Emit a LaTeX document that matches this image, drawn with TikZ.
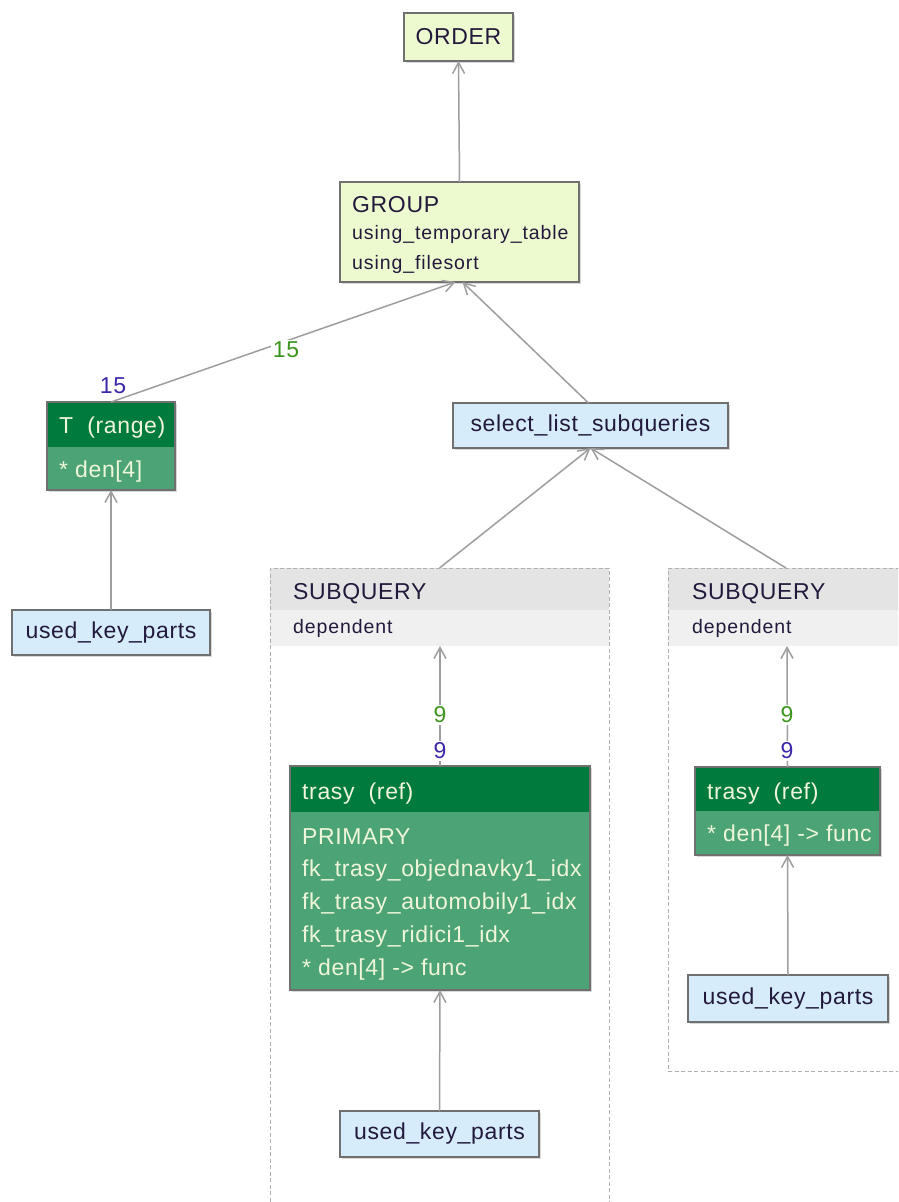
\documentclass[tikz,border=0pt]{standalone}
\usepackage{fontspec}
\setmainfont{Liberation Sans}[LetterSpace=2.8]
\usetikzlibrary{arrows.meta,shadows}

\definecolor{ygfill}{RGB}{237,250,208}
\definecolor{bluefill}{RGB}{214,236,251}
\definecolor{boxborder}{RGB}{112,112,112}
\definecolor{hdrgreen}{RGB}{0,122,61}
\definecolor{bodygreen}{RGB}{76,163,117}
\definecolor{greentext}{RGB}{240,246,218}
\definecolor{edgegray}{RGB}{158,158,158}
\definecolor{lblgreen}{RGB}{60,150,30}
\definecolor{lblpurple}{RGB}{60,40,170}
\definecolor{txt}{RGB}{35,25,60}
\definecolor{clhead}{RGB}{228,228,228}
\definecolor{clsub}{RGB}{240,240,240}
\definecolor{cldash}{RGB}{175,175,175}

\begin{document}
\begin{tikzpicture}[x=1pt,y=-1pt,
  bigfont/.style={font=\fontsize{23}{27}\selectfont},
  smallfont/.style={font=\fontsize{19.5}{23}\selectfont\addfontfeatures{LetterSpace=4.6}},
  shadowed/.style={drop shadow={shadow xshift=1.5pt,shadow yshift=-1.5pt,opacity=0.3}},
  box/.style={draw=boxborder, line width=1.1pt, inner sep=0pt, outer sep=0pt,
              anchor=north west, shadowed, text=txt, bigfont},
  opbox/.style={box, fill=ygfill},
  keybox/.style={box, fill=bluefill},
  tblbox/.style={box, fill=bodygreen},
  label/.style={anchor=base west, inner sep=0pt, text=txt},
  tbltext/.style={anchor=base west, inner sep=0pt, text=greentext, bigfont},
  cluster/.style={draw=cldash, line width=1pt, dash pattern=on 4pt off 2.5pt,
                  inner sep=0pt, outer sep=0pt, anchor=north west},
  edge/.style={draw=edgegray, line width=1.5pt,
               -{Straight Barb[length=11pt,width=12pt,line width=1.5pt]}},
  rows/.style={fill=white, inner sep=2pt, bigfont},
  rowsout/.style={rows, text=lblgreen},
  rowsin/.style={rows, text=lblpurple}
]
\useasboundingbox (0,0) rectangle (898,1202);
\fill[white] (0,0) rectangle (898,1202);
\clip (0,0) rectangle (898,1202);

% ---- subquery clusters ----
\fill[clhead] (270,568) rectangle (609,610);
\fill[clsub] (270,610) rectangle (609,646);
\node[cluster, minimum width=339pt, minimum height=662pt] (sq1) at (270,568) {};
\node[label, bigfont] (sq1t) at (293,599) {SUBQUERY};
\node[label, smallfont] (sq1d) at (293,633) {dependent};
\coordinate (sq1in) at (440,646);

\fill[clhead] (668,568) rectangle (910,610);
\fill[clsub] (668,610) rectangle (910,646);
\node[cluster, minimum width=238pt, minimum height=503pt] (sq2) at (668,568) {};
\node[label, bigfont] (sq2t) at (692,599) {SUBQUERY};
\node[label, smallfont] (sq2d) at (692,633) {dependent};
\coordinate (sq2in) at (787,646);

% ---- operation boxes ----
\node[opbox, minimum width=109pt, minimum height=48pt] (order) at (404,13) {ORDER};
\node[opbox, minimum width=239pt, minimum height=100pt] (group) at (340,182) {};
\node[label, bigfont] (groupt) at (352,212) {GROUP};
\node[label, smallfont] (groupa) at (352,239) {using\_temporary\_table};
\node[label, smallfont] (groupb) at (352,269) {using\_filesort};

\node[keybox, minimum width=275pt, minimum height=45pt] (sel) at (453,403) {select\_list\_subqueries};

% ---- table T ----
\node[tblbox, minimum width=128pt, minimum height=88pt] (T) at (47,402) {};
\fill[hdrgreen] (47,402) rectangle (175,447);
\draw[boxborder, line width=1.1pt] (T.north west) rectangle (T.south east);
\node[tbltext] (Tt) at (59,433) {T\ \ (range)};
\node[tbltext] (Tk) at (59,477) {* den[4]};
\node[keybox, minimum width=198pt, minimum height=45pt] (ukp1) at (12,610) {used\_key\_parts};

% ---- table trasy, first subquery ----
\node[tblbox, minimum width=300pt, minimum height=224pt] (tr1) at (290,766) {};
\fill[hdrgreen] (290,766) rectangle (590,812);
\draw[boxborder, line width=1.1pt] (tr1.north west) rectangle (tr1.south east);
\node[tbltext] (tr1t) at (302,799) {trasy\ \ (ref)};
\node[tbltext] (tr1a) at (302,844) {PRIMARY};
\node[tbltext] (tr1b) at (302,876) {fk\_trasy\_objednavky1\_idx};
\node[tbltext] (tr1c) at (302,909) {fk\_trasy\_automobily1\_idx};
\node[tbltext] (tr1d) at (302,942) {fk\_trasy\_ridici1\_idx};
\node[tbltext] (tr1e) at (302,975) {* den[4] -> func};
\node[keybox, minimum width=199pt, minimum height=46pt] (ukp2) at (340,1111) {used\_key\_parts};

% ---- table trasy, second subquery ----
\node[tblbox, minimum width=185pt, minimum height=88pt] (tr2) at (695,767) {};
\fill[hdrgreen] (695,767) rectangle (880,811);
\draw[boxborder, line width=1.1pt] (tr2.north west) rectangle (tr2.south east);
\node[tbltext] (tr2t) at (707,799) {trasy\ \ (ref)};
\node[tbltext] (tr2e) at (707,841) {* den[4] -> func};
\node[keybox, minimum width=200pt, minimum height=47pt] (ukp3) at (688,975) {used\_key\_parts};

% ---- connectors ----
\draw[edge] (group.north) -- (order.south);
\draw[edge] (T.north) -- ([xshift=-4pt]group.south);
\draw[edge] ([xshift=-2pt]sel.north) -- ([xshift=3pt]group.south);
\draw[edge] (ukp1.north) -- (T.south);
\draw[edge] (sq1.north) -- (sel.south);
\draw[edge] (786,568) -- (sel.south);
\draw[edge] (tr1.north) -- (sq1in);
\draw[edge] (ukp2.north) -- (tr1.south);
\draw[edge] (tr2.north) -- (sq2in);
\draw[edge] (ukp3.north) -- (tr2.south);

% ---- row estimates ----
\node[rowsout] (r15o) at (286,350) {15};
\node[rowsin, fill=none] (r15i) at (113,386) {15};
\node[rowsout] (r9o1) at (440,715) {9};
\node[rowsin] (r9i1) at (440,751) {9};
\node[rowsout] (r9o2) at (787,715) {9};
\node[rowsin] (r9i2) at (787,751) {9};
\end{tikzpicture}
\end{document}
